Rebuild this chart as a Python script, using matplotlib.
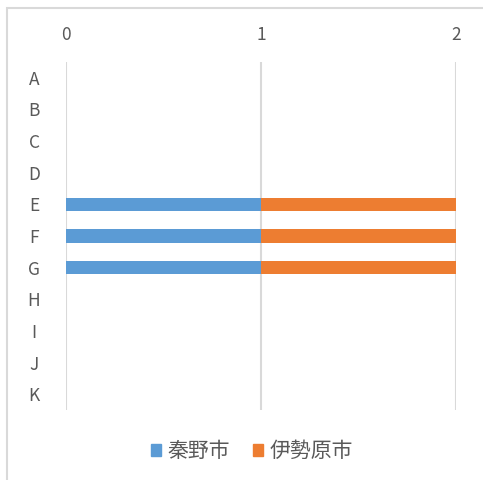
import numpy as np
import matplotlib.pyplot as plt
from matplotlib.patches import Patch, Rectangle

plt.rcParams['font.family'] = ['Noto Sans CJK JP', 'DejaVu Sans']

# data
categories = ['A', 'B', 'C', 'D', 'E', 'F', 'G', 'H', 'I', 'J', 'K']
hadano = [0, 0, 0, 0, 1, 1, 1, 0, 0, 0, 0]
isehara = [0, 0, 0, 0, 1, 1, 1, 0, 0, 0, 0]
seriesNames = ['秦野市', '伊勢原市']
xticks = [0, 1, 2]

blue = '#5b9bd5'
orange = '#ed7d31'
grey = '#595959'
gridc = '#d9d9d9'

W, H = 483, 480
fig = plt.figure(figsize=(W / 100, H / 100), dpi=100)

# outer chart border (right/bottom clipped in reference)
fig.patches.append(Rectangle((7 / W, -0.1), 1.2, 1 - 8 / H + 0.1, transform=fig.transFigure,
                             fill=False, edgecolor=gridc, linewidth=1.5))

ax = fig.add_axes([66 / W, 1 - 410 / H, (456 - 66) / W, (410 - 62) / H])
y = np.arange(len(categories))
ax.barh(y, hadano, height=0.42, color=blue, label=seriesNames[0], zorder=3)
ax.barh(y, isehara, left=hadano, height=0.42, color=orange, label=seriesNames[1], zorder=3)

ax.set_xlim(0, 2)
ax.set_ylim(len(categories) - 0.5, -0.5)
ax.set_xticks(xticks)
ax.set_yticks(y)
ax.set_yticklabels(categories)
ax.xaxis.tick_top()
ax.tick_params(axis='both', length=0, colors=grey, labelsize=12.5)
ax.tick_params(axis='x', pad=13)
ax.tick_params(axis='y', pad=23)
for lab in ax.get_yticklabels():
  lab.set_horizontalalignment('center')
ax.grid(axis='x', color=gridc, linewidth=1.5, zorder=0)
for s in ax.spines.values():
  s.set_visible(False)

handles = [Patch(color=blue), Patch(color=orange)]
leg = fig.legend(handles, seriesNames, loc='center', bbox_to_anchor=(252 / W, 1 - 451 / H),
                 ncol=2, frameon=False, fontsize=15, handlelength=0.5, handleheight=0.5,
                 handletextpad=0.3, columnspacing=1.1)
for t in leg.get_texts():
  t.set_color(grey)

fig.savefig('out.png', dpi=100)
